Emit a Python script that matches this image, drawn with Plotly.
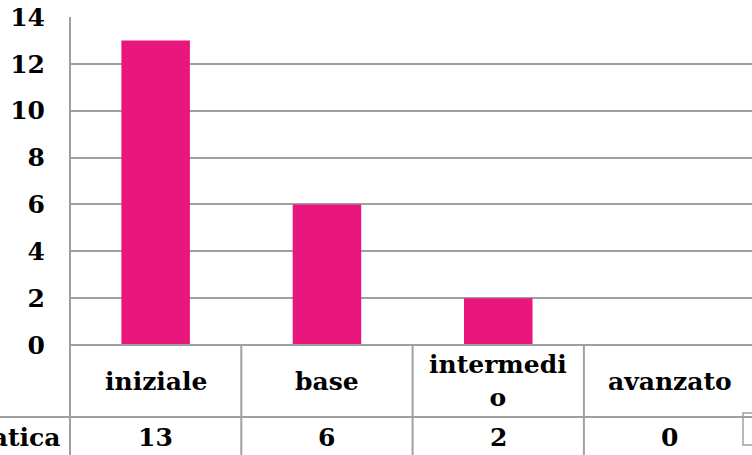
import plotly.graph_objects as go

categories = ["iniziale", "base", "intermedio", "avanzato"]
header_labels = ["iniziale", "base", "intermedi<br>o", "avanzato"]
values = [13, 6, 2, 0]
series_name = "Matematica"
y_ticks = [0, 2, 4, 6, 8, 10, 12, 14]

W, H = 752, 455
FONT = "DejaVu Serif"
FS = 25
GRID = "#a0a0a0"
BAR = "#E9177D"

left_px, plot_top, plot_bottom = 70, 17, 345
cat_w = 171.3
right_px_full = left_px + cat_w * 4
def py(p):
    return (H - p) / H

x_range_end = -0.5 + 4 * (W - left_px) / (right_px_full - left_px)

fig = go.Figure()
fig.add_trace(go.Bar(x=list(range(len(categories))), y=values, marker=dict(color=BAR, line=dict(width=0)),
                     name=series_name, hoverinfo="skip"))

fig.update_layout(
    width=W, height=H, margin=dict(l=0, r=0, t=0, b=0, autoexpand=False),
    paper_bgcolor="white", plot_bgcolor="white", showlegend=False,
    bargap=0.6,
    font=dict(family=FONT, size=FS, color="black"),
    xaxis=dict(domain=[left_px / W, 1], range=[-0.5, x_range_end], showticklabels=False,
               showgrid=False, zeroline=False, showline=False, ticks="", automargin=False),
    yaxis=dict(domain=[py(plot_bottom), py(plot_top)], range=[0, 14], tickvals=y_ticks,
               showgrid=True, gridcolor=GRID, gridwidth=2, zeroline=False, showline=False,
               ticks="", ticklabelstandoff=24, automargin=False,
               tickfont=dict(family=FONT, size=FS, color="black", weight="bold")),
)

shapes = []
line = dict(color=GRID, width=2)
# x axis line / table top
shapes.append(dict(type="line", xref="paper", yref="paper", x0=left_px / W, x1=1, y0=py(plot_bottom), y1=py(plot_bottom), line=line))
# left vertical line
shapes.append(dict(type="line", xref="paper", yref="paper", x0=left_px / W, x1=left_px / W, y0=py(plot_top), y1=0, line=line))
# column separators
for i in range(1, len(categories)):
    shapes.append(dict(type="line", xref="x", yref="paper", x0=i - 0.5, x1=i - 0.5, y0=py(plot_bottom), y1=0, line=line))
# row separator
shapes.append(dict(type="line", xref="paper", yref="paper", x0=0, x1=1, y0=py(417), y1=py(417), line=line))
# legend key box
shapes.append(dict(type="rect", xref="paper", yref="paper", x0=743 / W, x1=760 / W, y0=py(445), y1=py(413),
                   line=dict(color=GRID, width=1.5)))
fig.update_layout(shapes=shapes)

anns = []
for i, lab in enumerate(header_labels):
    anns.append(dict(x=i, xref="x", y=py(381), yref="paper", text="<b>%s</b>" % lab, showarrow=False,
                     xanchor="center", yanchor="middle", font=dict(family=FONT, size=FS, color="black")))
    anns.append(dict(x=i, xref="x", y=py(437), yref="paper", text="<b>%d</b>" % values[i], showarrow=False,
                     xanchor="center", yanchor="middle", font=dict(family=FONT, size=FS, color="black")))
anns.append(dict(x=62 / W, xref="paper", y=py(437), yref="paper", text="<b>%s</b>" % series_name, showarrow=False,
                 xanchor="right", yanchor="middle", font=dict(family=FONT, size=FS, color="black")))
fig.update_layout(annotations=anns)

fig.write_html("out.html", config={"displayModeBar": False},
               post_script="document.body.style.margin='0';document.body.style.overflow='hidden';")
